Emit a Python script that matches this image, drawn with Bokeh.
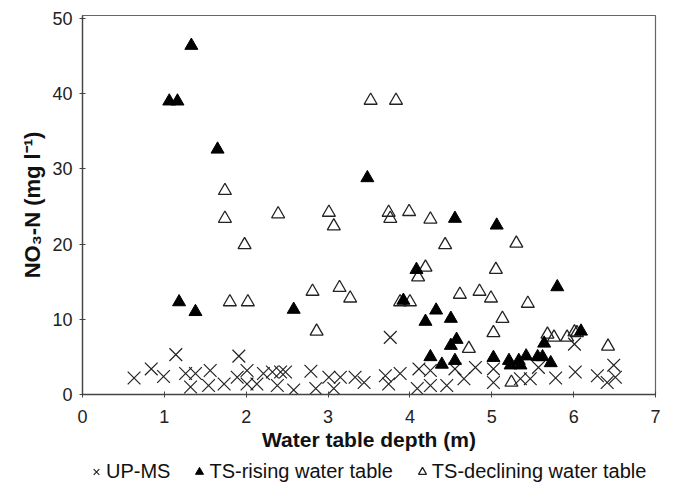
from bokeh.plotting import figure
from bokeh.layouts import column
from bokeh.models import Legend, LegendItem, Range1d, SingleIntervalTicker
from bokeh.embed import file_html
from bokeh.resources import INLINE

# UP-MS (crosses)
upms_x = [0.63, 0.84, 0.99, 1.14, 1.26, 1.38, 1.32, 1.56, 1.54, 1.73, 1.91, 1.89, 2.01, 2.01,
          2.21, 2.13, 2.32, 2.42, 2.48, 2.38, 2.58, 2.79, 2.85, 3.01, 3.07, 3.76, 3.15, 3.33,
          3.44, 3.70, 3.74, 3.88, 4.11, 4.25, 4.25, 4.09, 4.45, 4.55, 4.66, 4.80, 5.02, 5.02,
          5.35, 5.57, 5.47, 5.78, 6.01, 6.02, 6.29, 6.41, 6.49, 6.51]
upms_y = [2.2, 3.4, 2.4, 5.3, 2.8, 2.8, 1.0, 3.2, 1.2, 1.4, 5.1, 2.3, 3.2, 1.4,
          2.8, 1.4, 3.0, 3.0, 3.0, 1.2, 0.6, 3.1, 0.8, 2.3, 0.8, 7.6, 2.3, 2.3,
          1.6, 2.5, 1.4, 2.8, 3.4, 3.2, 1.2, 0.8, 1.2, 3.4, 2.1, 3.6, 3.4, 1.6,
          2.1, 3.6, 2.1, 2.2, 6.7, 3.0, 2.5, 1.6, 3.9, 2.3]

# TS-rising water table (filled triangles)
rise_x = [1.33, 1.06, 1.16, 1.65, 1.18, 1.38, 2.58, 3.48, 4.55, 5.06, 4.08, 3.92, 5.80, 4.32,
          4.19, 4.50, 4.57, 4.50, 5.64, 6.09, 4.25, 4.39, 4.55, 5.02, 5.21, 5.23, 5.33, 5.35,
          5.42, 5.56, 5.62, 5.72]
rise_y = [46.4, 39.0, 39.0, 32.6, 12.3, 11.0, 11.3, 28.8, 23.4, 22.5, 16.6, 12.5, 14.3, 11.2,
          9.7, 10.1, 7.3, 6.5, 6.8, 8.4, 5.0, 4.0, 4.5, 4.9, 4.5, 3.9, 4.5, 3.9,
          5.1, 5.0, 5.0, 4.2]

# TS-declining water table (open triangles)
decl_x = [1.74, 1.74, 2.39, 3.01, 3.07, 1.98, 3.52, 3.83, 3.74, 3.76, 3.99, 4.25, 4.43, 5.30,
          4.19, 4.10, 5.05, 3.14, 3.27, 4.61, 4.85, 4.99, 5.44, 5.13, 3.88, 4.00, 5.02, 4.72,
          5.68, 5.76, 5.92, 6.01, 6.04, 6.42, 5.24, 1.80, 2.02, 2.81, 2.86]
decl_y = [27.1, 23.4, 24.0, 24.2, 22.4, 19.9, 39.1, 39.1, 24.2, 23.4, 24.3, 23.3, 19.9, 20.1,
          16.9, 15.6, 16.6, 14.2, 12.8, 13.3, 13.7, 12.8, 12.1, 10.1, 12.3, 12.3, 8.2, 6.1,
          8.0, 7.6, 7.6, 8.3, 8.2, 6.4, 1.6, 12.3, 12.3, 13.7, 8.4]

series_labels = ["UP-MS", "TS-rising water table", "TS-declining water table"]

x_ticks_interval = 1
y_ticks_interval = 10

FONT = "Liberation Sans"

p = figure(width=674, height=455, output_backend="svg", toolbar_location=None,
           x_range=Range1d(0, 7), y_range=Range1d(0, 50.4))
p.min_border_left = 82
p.min_border_right = 19
p.min_border_top = 15
p.min_border_bottom = 61
p.background_fill_color = "white"
p.border_fill_color = "white"
p.grid.visible = False
p.outline_line_color = "#666666"
p.outline_line_width = 1.2

X_STYLE = dict(marker="x", line_color="#222222", line_width=1.2)
D_STYLE = dict(marker="triangle", line_color="#222222", fill_color=None, line_width=1.3)
R_STYLE = dict(marker="triangle", line_color="black", fill_color="black", line_width=1)

p.scatter(upms_x, upms_y, size=18, **X_STYLE)
p.scatter(decl_x, decl_y, size=13, **D_STYLE)
p.scatter(rise_x, rise_y, size=13, **R_STYLE)

for ax in (p.xaxis[0], p.yaxis[0]):
    ax.axis_line_color = "#444444"
    ax.axis_line_width = 1.3
    ax.major_tick_line_color = "#444444"
    ax.major_tick_in = 3
    ax.major_tick_out = 3
    ax.minor_tick_line_color = None
    ax.major_label_text_font = FONT
    ax.major_label_text_font_size = "18px"
    ax.major_label_text_color = "#222222"
    ax.axis_label_text_font = FONT
    ax.axis_label_text_font_style = "bold"
    ax.axis_label_text_font_size = "21px"
    ax.axis_label_text_color = "#111111"

p.xaxis.ticker = SingleIntervalTicker(interval=x_ticks_interval)
p.yaxis.ticker = SingleIntervalTicker(interval=y_ticks_interval)
p.xaxis.axis_label = "Water table depth (m)"
p.yaxis.axis_label = "NO₃-N (mg l⁻¹)"
p.yaxis.axis_label_text_font_size = "22px"
p.xaxis.major_label_standoff = 11
p.xaxis.axis_label_standoff = 2
p.yaxis.major_label_standoff = 6
p.yaxis.axis_label_standoff = 4

# legend strip below the chart: the same series, drawn outside the strip's visible range
q = figure(width=674, height=32, output_backend="svg", toolbar_location=None,
           x_axis_type=None, y_axis_type=None, x_range=Range1d(0, 7), y_range=Range1d(-20, -10))
q.min_border_left = 0
q.min_border_right = 0
q.min_border_top = 0
q.min_border_bottom = 0
q.outline_line_color = None
q.grid.visible = False
lx = q.scatter(upms_x, upms_y, size=12, **X_STYLE)
lr = q.scatter(rise_x, rise_y, size=12, **R_STYLE)
ld = q.scatter(decl_x, decl_y, size=12, **D_STYLE)

legend = Legend(items=[
    LegendItem(label=series_labels[0], renderers=[lx]),
    LegendItem(label=series_labels[1], renderers=[lr]),
    LegendItem(label=series_labels[2], renderers=[ld]),
], orientation="horizontal")
legend.label_text_font = FONT
legend.label_text_font_size = "20px"
legend.label_text_color = "#111111"
legend.border_line_color = None
legend.background_fill_alpha = 0
legend.glyph_width = 20
legend.glyph_height = 22
legend.label_standoff = 0
legend.spacing = 19
legend.padding = 0
legend.margin = 4
legend.location = "left"
q.add_layout(legend, "center")

layout = column(p, q, spacing=0)
open("out.html", "w").write(file_html(layout, INLINE))
